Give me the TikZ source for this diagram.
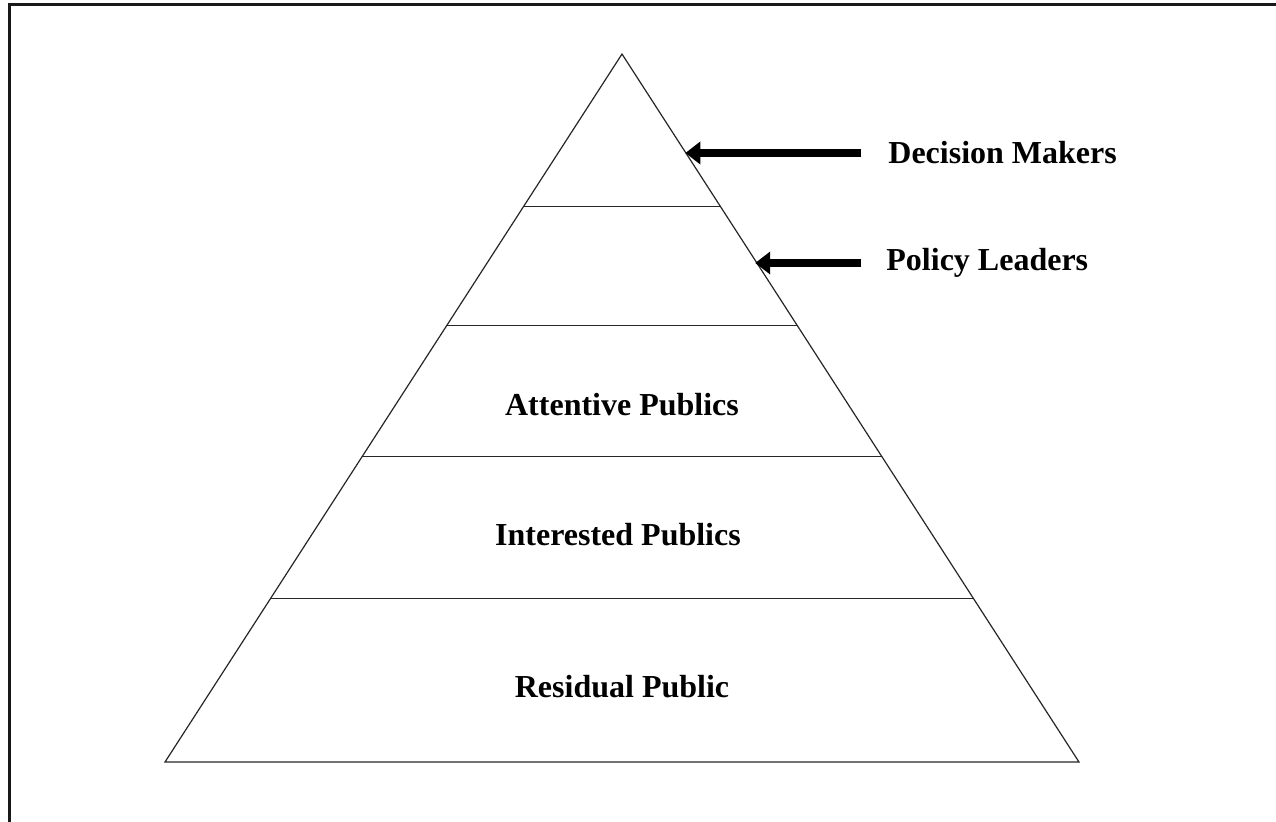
\documentclass[tikz,border=0pt]{standalone}
\usepackage{fontspec}
\setmainfont{Liberation Serif}
\usepackage{tikz}
\usetikzlibrary{calc}
\usetikzlibrary{arrows.meta}
\usetikzlibrary{positioning}

\tikzset{
  layerline/.style={line width=0.6pt, color=black!85},
  levellabel/.style={font=\fontsize{16}{19}\selectfont\bfseries, inner sep=0pt},
  pointer/.style={line width=3.6pt, -{Triangle[length=7.5pt,width=11pt]}}
}

\begin{document}
\begin{tikzpicture}[x=0.5pt,y=-0.5pt]
        \useasboundingbox (0,0) rectangle (1276,821);
        % outer frame (open to the right and bottom)
        \draw[line width=1.5pt, color=black!90] (9,822) -- (9,4) -- (1277,4);
        % pyramid
        \coordinate (apex) at (622,54);
        \coordinate (bl) at (165,762);
        \coordinate (br) at (1079,762);
        \draw[layerline] (apex) -- (bl) -- (br) -- cycle;
        \foreach \t in {0.215,0.3833,0.5686,0.7695}
          \draw[layerline] ($(apex)!\t!(bl)$) -- ($(apex)!\t!(br)$);
        \node[levellabel] (attentive) at (622,405) {Attentive Publics};
        \node[levellabel] (interested) at (618,535) {Interested Publics};
        \node[levellabel] (residual) at (622,687) {Residual Public};
        % pointers at the two top layers
        \coordinate (dmtip) at ($(apex)!0.1386!(br)$);
        \coordinate (pltip) at ($(apex)!0.2914!(br)$);
        \node[levellabel, anchor=west] (decision) at (888,153) {Decision Makers};
        \node[levellabel, anchor=west] (policy) at (886,263) {Policy Leaders};
        \draw[pointer, shorten <=13.5pt] (decision.west) -- (decision.west -| dmtip);
        \draw[pointer, shorten <=12.5pt] (policy.west) -- (policy.west -| pltip);
      \end{tikzpicture}
\end{document}
